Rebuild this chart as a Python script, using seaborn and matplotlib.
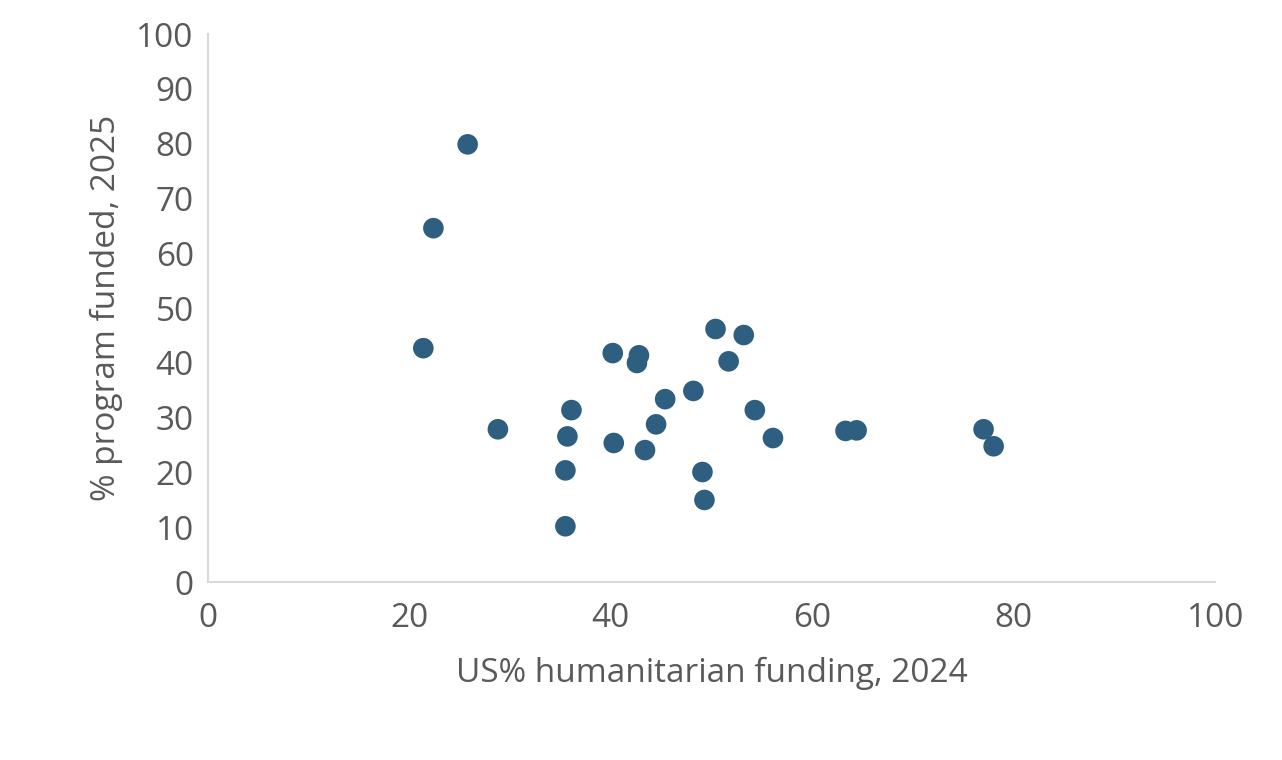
import matplotlib
matplotlib.use("Agg")
import matplotlib.pyplot as plt
import seaborn as sns
import pandas as pd

us_share_2024 = [25.8, 22.4, 21.4, 28.8, 35.5, 35.5, 35.7, 36.1, 40.2, 40.3, 42.8, 42.6, 43.4, 44.5,
                 45.4, 48.2, 49.1, 49.3, 50.4, 51.7, 53.2, 54.3, 56.1, 63.3, 64.4, 77.0, 78.0]
funded_2025 = [79.9, 64.6, 42.7, 27.9, 10.2, 20.4, 26.6, 31.4, 41.8, 25.4, 41.4, 40.0, 24.1, 28.8,
               33.4, 34.9, 20.1, 15.0, 46.2, 40.3, 45.1, 31.4, 26.3, 27.6, 27.7, 27.9, 24.8]
ticks = [0, 10, 20, 30, 40, 50, 60, 70, 80, 90, 100]
xticks = [0, 20, 40, 60, 80, 100]

df = pd.DataFrame({"x": us_share_2024, "y": funded_2025})
sns.set_theme(style="white")
plt.rcParams['font.family'] = ['Open Sans', 'DejaVu Sans']
fig = plt.figure(figsize=(12.82, 7.6), dpi=100)
ax = fig.add_axes([0.162, 0.234, 0.786, 0.721])
sns.scatterplot(data=df, x="x", y="y", ax=ax, s=220, color="#2E5E80", edgecolor="none")
ax.set_xlim(0, 100); ax.set_ylim(0, 100)
ax.set_xticks(xticks); ax.set_yticks(ticks)
grey = "#595959"
ax.tick_params(labelsize=24, colors=grey, length=0, pad=10)
ax.tick_params(axis="x", pad=14)
ax.set_xlabel("US% humanitarian funding, 2024", fontsize=24, color=grey, labelpad=16)
ax.set_ylabel("% program funded, 2025", fontsize=24, color=grey, labelpad=10)
for s in ["top", "right"]:
    ax.spines[s].set_visible(False)
for s in ["left", "bottom"]:
    ax.spines[s].set_color("#D9D9D9"); ax.spines[s].set_linewidth(1.5)
fig.savefig("out.png", dpi=100)
